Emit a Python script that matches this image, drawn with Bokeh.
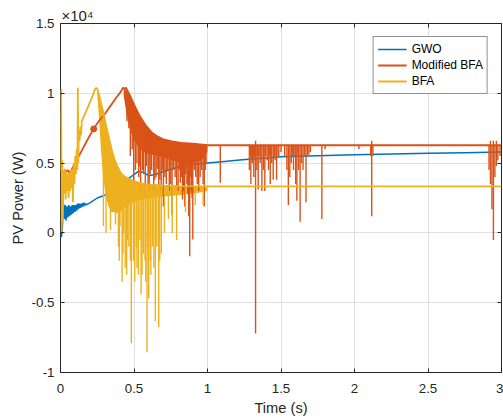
from bokeh.plotting import figure
from bokeh.models import Range1d, FixedTicker, LinearAxis, Legend, LegendItem, Title
from bokeh.embed import file_html
from bokeh.resources import INLINE

FONT = "Liberation Sans"
DARK = "#262626"
C_GWO = "#0072BD"
C_MBFA = "#D95319"
C_BFA = "#EDB120"

# ---------------- data (PV power, units of 1e4 W) ----------------
x_ticks = [0, 0.5, 1, 1.5, 2, 2.5, 3]
x_tick_labels = ["0", "0.5", "1", "1.5", "2", "2.5", "3"]
y_ticks = [-1, -0.5, 0, 0.5, 1, 1.5]
y_tick_labels = ["-1", "-0.5", "0", "0.5", "1", "1.5"]

# GWO
gwo_x = [0.000, 0.006, 0.012, 0.020, 0.026, 0.032, 0.038, 0.044, 0.050, 0.056, 0.062, 0.068,
         0.074, 0.080, 0.086, 0.092, 0.098, 0.104, 0.110, 0.116, 0.122, 0.128, 0.134, 0.140,
         0.146, 0.152, 0.158, 0.164, 0.170, 0.200, 0.250, 0.300, 0.350, 0.400, 0.450, 0.490,
         0.530, 0.560, 0.600, 0.650, 0.700, 0.800, 0.900, 1.000, 1.100, 1.200, 1.300, 1.400,
         1.500, 1.750, 2.000, 2.250, 2.500, 2.750, 3.000]
gwo_y = [0.00, -0.03, 0.02, 0.21, 0.10, 0.20, 0.09, 0.19, 0.11, 0.20, 0.12, 0.19,
         0.13, 0.20, 0.14, 0.20, 0.15, 0.20, 0.16, 0.21, 0.17, 0.21, 0.18, 0.21,
         0.185, 0.215, 0.19, 0.215, 0.20, 0.215, 0.25, 0.27, 0.30, 0.34, 0.38, 0.41,
         0.44, 0.435, 0.41, 0.42, 0.44, 0.47, 0.49, 0.50, 0.51, 0.52, 0.53, 0.537,
         0.545, 0.553, 0.56, 0.565, 0.57, 0.575, 0.58]

# Modified BFA
mbfa_x = [0.000, 0.010, 0.020, 0.030, 0.040, 0.050, 0.060, 0.068, 0.100, 0.140, 0.180, 0.222,
          0.260, 0.300, 0.340, 0.380, 0.410, 0.425, 0.435, 0.445, 0.455, 0.470, 0.500, 0.540,
          0.580, 0.620, 0.660, 0.700, 0.760, 0.820, 0.900, 1.000, 3.000]
mbfa_y = [0.44, 0.45, 0.43, 0.45, 0.44, 0.45, 0.43, 0.44, 0.50, 0.58, 0.66, 0.74,
          0.80, 0.85, 0.91, 0.97, 1.01, 1.04, 1.03, 1.04, 1.02, 0.99, 0.92, 0.835,
          0.77, 0.72, 0.69, 0.67, 0.655, 0.645, 0.64, 0.628, 0.628]
mbfa_dot_x = [0.226]
mbfa_dot_y = [0.745]
mbfa_band_x = [0.43, 0.45, 0.47, 0.50, 0.54, 0.58, 0.62, 0.66, 0.70, 0.76, 0.82, 0.90, 0.96, 1.00]
mbfa_band_hi = [1.03, 1.02, 0.99, 0.92, 0.835, 0.77, 0.72, 0.69, 0.67, 0.655, 0.645, 0.64, 0.635, 0.63]
mbfa_band_lo = [0.98, 0.85, 0.75, 0.66, 0.60, 0.57, 0.56, 0.55, 0.54, 0.52, 0.50, 0.50, 0.52, 0.58]
mbfa_spike_x = [0.498, 0.510, 0.532, 0.545, 0.557, 0.577, 0.596, 0.610, 0.634, 0.650, 0.668,
                0.685, 0.700, 0.720, 0.740, 0.759, 0.780, 0.800, 0.815, 0.830, 0.845, 0.860,
                0.872, 0.879, 0.890, 0.900, 0.920, 0.940, 0.960, 0.978, 0.990,
                0.452, 0.465, 0.475, 0.488, 0.520, 0.538, 0.565, 0.585, 0.603, 0.620, 0.642,
                0.658, 0.676, 0.692, 0.710, 0.730, 0.750, 0.768, 0.790, 0.808, 0.822, 0.838,
                0.852, 0.866, 0.885, 0.895, 0.910, 0.930, 0.950, 0.970, 0.985,
                1.087, 1.285, 1.290, 1.295, 1.300, 1.305, 1.310, 1.315, 1.320, 1.327, 1.336,
                1.340, 1.345, 1.350, 1.358, 1.362, 1.370, 1.380, 1.390, 1.395, 1.405, 1.415,
                1.420, 1.427, 1.437, 1.447, 1.455, 1.460, 1.470, 1.480, 1.485, 1.500, 1.525,
                1.540, 1.550, 1.560, 1.570, 1.580, 1.585, 1.595, 1.600, 1.608, 1.615, 1.620,
                1.630, 1.640, 1.650, 1.660, 1.670, 1.680, 1.690, 1.700, 1.778, 1.800, 2.030,
                2.110, 2.117, 2.125, 2.915, 2.925, 2.935, 2.945, 2.955, 2.965, 2.975, 2.990]
mbfa_spike_lo = [0.30, 0.45, 0.40, 0.30, 0.45, 0.25, 0.35, 0.42, 0.31, 0.40, 0.07,
                 0.30, 0.19, 0.35, 0.30, 0.13, 0.40, 0.30, 0.36, 0.24, 0.19, 0.35,
                 0.12, -0.167, 0.30, -0.048, 0.40, 0.30, 0.45, 0.19, 0.50,
                 0.80, 0.75, 0.55, 0.60, 0.50, 0.48, 0.42, 0.48, 0.30, 0.45, 0.38,
                 0.46, 0.38, 0.45, 0.40, 0.45, 0.35, 0.45, 0.33, 0.45, 0.40, 0.30,
                 0.42, 0.28, 0.40, 0.25, 0.45, 0.35, 0.40, 0.35, 0.45,
                 0.36, 0.45, 0.55, 0.35, 0.52, 0.50, 0.55, 0.40, 0.54, -0.72, 0.45,
                 0.55, 0.31, 0.55, 0.50, 0.54, 0.30, 0.45, 0.30, 0.55, 0.52, 0.45,
                 0.55, 0.35, 0.50, 0.38, 0.55, 0.52, 0.38, 0.55, 0.55, 0.58, 0.55,
                 0.45, 0.20, 0.40, 0.50, 0.55, 0.45, 0.55, 0.35, 0.23, 0.55, 0.45,
                 0.08, 0.50, 0.45, 0.55, 0.22, 0.55, 0.56, 0.58, 0.10, 0.60, 0.60,
                 0.55, 0.12, 0.55, 0.45, 0.35, 0.17, -0.05, 0.40, 0.48, 0.52, 0.55]
mbfa_spike_hi = [0.92, 0.89, 0.85, 0.825, 0.80, 0.775, 0.75, 0.735, 0.71, 0.70, 0.69,
                 0.68, 0.675, 0.665, 0.66, 0.655, 0.65, 0.648, 0.646, 0.645, 0.643, 0.642,
                 0.641, 0.641, 0.64, 0.64, 0.638, 0.636, 0.635, 0.634, 0.633,
                 1.02, 0.995, 0.98, 0.95, 0.87, 0.84, 0.79, 0.76, 0.74, 0.72, 0.705,
                 0.695, 0.685, 0.678, 0.67, 0.663, 0.657, 0.652, 0.649, 0.647, 0.645, 0.644,
                 0.643, 0.642, 0.641, 0.64, 0.639, 0.637, 0.636, 0.635, 0.634,
                 0.628, 0.628, 0.628, 0.628, 0.628, 0.628, 0.628, 0.628, 0.628, 0.66, 0.628,
                 0.628, 0.628, 0.628, 0.628, 0.628, 0.628, 0.628, 0.628, 0.628, 0.628, 0.628,
                 0.628, 0.628, 0.628, 0.628, 0.628, 0.628, 0.628, 0.628, 0.628, 0.628, 0.628,
                 0.628, 0.628, 0.628, 0.628, 0.628, 0.628, 0.628, 0.628, 0.628, 0.628, 0.628,
                 0.628, 0.628, 0.628, 0.628, 0.628, 0.628, 0.628, 0.628, 0.628, 0.628, 0.628,
                 0.628, 0.66, 0.628, 0.628, 0.66, 0.628, 0.66, 0.628, 0.66, 0.628, 0.628]

# BFA
bfa_x = [0.000, 0.004, 0.008, 0.012, 0.016, 0.020, 0.025, 0.030, 0.035, 0.040, 0.045, 0.050,
         0.055, 0.060, 0.065, 0.070, 0.075, 0.080, 0.085, 0.090, 0.095, 0.100, 0.105, 0.110,
         0.115, 0.118, 0.121, 0.125, 0.130, 0.135, 0.140, 0.145, 0.190, 0.220, 0.235, 0.243,
         0.250, 0.260, 0.275, 0.290, 0.310, 0.330, 0.345, 0.360, 0.385, 0.410, 0.430, 0.460,
         0.500, 0.550, 0.610, 0.700, 0.800, 1.000, 3.000]
bfa_y = [0.45, 1.03, 0.00, 0.52, 0.08, 0.45, 0.28, 0.46, 0.24, 0.44, 0.30, 0.42,
         0.25, 0.43, 0.30, 0.45, 0.32, 0.46, 0.22, 0.50, 0.35, 0.55, 0.42, 0.60,
         0.45, 1.04, 0.50, 0.74, 0.66, 0.76, 0.70, 0.80, 0.91, 0.985, 1.03, 1.04,
         1.03, 1.00, 0.93, 0.87, 0.77, 0.68, 0.61, 0.55, 0.48, 0.43, 0.41, 0.39,
         0.37, 0.355, 0.345, 0.338, 0.335, 0.333, 0.333]
bfa_band_x = [0.25, 0.26, 0.275, 0.29, 0.31, 0.33, 0.345, 0.36, 0.385, 0.41, 0.43, 0.46,
              0.50, 0.55, 0.61, 0.70, 0.80, 0.90, 1.00]
bfa_band_hi = [1.03, 1.00, 0.93, 0.87, 0.77, 0.68, 0.61, 0.55, 0.48, 0.43, 0.41, 0.39,
               0.37, 0.355, 0.345, 0.338, 0.335, 0.334, 0.333]
bfa_band_lo = [0.98, 0.85, 0.60, 0.40, 0.25, 0.18, 0.15, 0.15, 0.14, 0.15, 0.18, 0.20,
               0.22, 0.24, 0.25, 0.26, 0.27, 0.28, 0.30]
bfa_spike_x = [0.292, 0.310, 0.340, 0.374, 0.394, 0.400, 0.405, 0.419, 0.425, 0.430, 0.440,
               0.450, 0.455, 0.465, 0.475, 0.482, 0.496, 0.505, 0.516, 0.520, 0.530, 0.540,
               0.548, 0.555, 0.564, 0.575, 0.580, 0.589, 0.595, 0.600, 0.610, 0.615, 0.625,
               0.635, 0.645, 0.655, 0.668, 0.675, 0.686, 0.707, 0.734, 0.760, 0.790, 0.850,
               0.917, 0.970]
bfa_spike_lo = [0.05, 0.00, 0.02, 0.06, -0.10, -0.20, 0.05, -0.35, -0.15, 0.00, -0.25,
                -0.30, -0.05, -0.10, -0.20, -0.79, -0.20, -0.35, -0.10, -0.25, -0.30, -0.05,
                -0.44, -0.30, -0.15, -0.20, -0.35, -0.855, -0.10, -0.47, -0.20, -0.30, -0.10,
                -0.25, -0.633, -0.10, -0.676, -0.20, -0.15, 0.00, 0.10, 0.00, -0.05, 0.15,
                0.20, 0.20]
bfa_spike_hi = [0.86, 0.77, 0.63, 0.51, 0.46, 0.45, 0.44, 0.42, 0.415, 0.41, 0.40,
                0.395, 0.39, 0.385, 0.38, 0.375, 0.37, 0.368, 0.365, 0.364, 0.36, 0.357,
                0.355, 0.354, 0.353, 0.352, 0.351, 0.35, 0.349, 0.348, 0.345, 0.345, 0.344,
                0.343, 0.342, 0.341, 0.340, 0.340, 0.339, 0.338, 0.337, 0.336, 0.335, 0.334,
                0.334, 0.333]

# ---------------- figure ----------------
p = figure(frame_width=441, frame_height=349,
           x_range=Range1d(0, 3), y_range=Range1d(-1, 1.5),
           output_backend="svg", toolbar_location=None,
           min_border_left=60, min_border_right=2, min_border_top=23, min_border_bottom=46,
           background_fill_color="white", border_fill_color="white")
p.outline_line_color = DARK
p.outline_line_width = 1

xt = FixedTicker(ticks=x_ticks)
yt = FixedTicker(ticks=y_ticks)
x_over = dict(zip([float(v) for v in x_ticks], x_tick_labels))
y_over = dict(zip([float(v) for v in y_ticks], y_tick_labels))

p.xaxis.ticker = xt
p.yaxis.ticker = yt
p.xaxis.major_label_overrides = x_over
p.yaxis.major_label_overrides = y_over
p.xaxis.axis_label = "Time (s)"
p.yaxis.axis_label = "PV Power (W)"
for ax in (p.xaxis[0], p.yaxis[0]):
    ax.axis_line_color = None
    ax.major_tick_in = 4
    ax.major_tick_out = 0
    ax.minor_tick_in = 0
    ax.minor_tick_out = 0
    ax.major_tick_line_color = DARK
    ax.major_label_text_font = FONT
    ax.major_label_text_font_size = "13.33px"
    ax.major_label_text_color = DARK
    ax.axis_label_text_font = FONT
    ax.axis_label_text_font_size = "14.67px"
    ax.axis_label_text_font_style = "normal"
    ax.axis_label_text_color = DARK
p.xaxis.major_label_standoff = 11
p.xaxis.axis_label_standoff = 4
p.yaxis.major_label_standoff = 6
p.yaxis.axis_label_standoff = 3

blank_x = {float(v): "" for v in x_ticks}
blank_y = {float(v): "" for v in y_ticks}
top_ax = LinearAxis(ticker=FixedTicker(ticks=x_ticks), axis_line_color=None,
                    major_tick_in=4, major_tick_out=0, minor_tick_in=0, minor_tick_out=0,
                    major_tick_line_color=DARK, major_label_overrides=blank_x,
                    major_label_standoff=0)
right_ax = LinearAxis(ticker=FixedTicker(ticks=y_ticks), axis_line_color=None,
                      major_tick_in=4, major_tick_out=0, minor_tick_in=0, minor_tick_out=0,
                      major_tick_line_color=DARK, major_label_overrides=blank_y,
                      major_label_standoff=0)
p.add_layout(top_ax, "above")
p.add_layout(right_ax, "right")

p.xgrid.ticker = xt
p.ygrid.ticker = yt
p.xgrid.grid_line_color = "#DFDFDF"
p.ygrid.grid_line_color = "#DFDFDF"

# exponent label above the axes, left-aligned with the frame
p.add_layout(Title(text="×10⁴", align="left", offset=1, standoff=0,
                   text_font=FONT, text_font_size="15px", text_font_style="normal",
                   text_color=DARK), "above")

# ---------------- series ----------------
r_gwo = p.line(gwo_x, gwo_y, line_color=C_GWO, line_width=1.5)
p.varea(x=bfa_band_x, y1=bfa_band_lo, y2=bfa_band_hi, fill_color=C_BFA)
p.varea(x=mbfa_band_x, y1=mbfa_band_lo, y2=mbfa_band_hi, fill_color=C_MBFA)
r_mbfa = p.line(mbfa_x, mbfa_y, line_color=C_MBFA, line_width=1.8)
p.segment(x0=mbfa_spike_x, y0=mbfa_spike_lo, x1=mbfa_spike_x, y1=mbfa_spike_hi,
          line_color=C_MBFA, line_width=1.4)
p.scatter(mbfa_dot_x, mbfa_dot_y, size=6, color=C_MBFA)
r_bfa = p.line(bfa_x, bfa_y, line_color=C_BFA, line_width=1.8)
p.segment(x0=bfa_spike_x, y0=bfa_spike_lo, x1=bfa_spike_x, y1=bfa_spike_hi,
          line_color=C_BFA, line_width=1.4)

legend = Legend(items=[LegendItem(label="GWO", renderers=[r_gwo]),
                       LegendItem(label="Modified BFA", renderers=[r_mbfa]),
                       LegendItem(label="BFA", renderers=[r_bfa])],
                location="top_right", margin=13, padding=4, spacing=0,
                glyph_width=29, glyph_height=16, label_height=16, label_standoff=5,
                label_text_font=FONT, label_text_font_size="12px", label_text_color="black",
                border_line_color=DARK, border_line_width=1,
                background_fill_color="white", background_fill_alpha=1.0)
p.add_layout(legend)

open("out.html", "w").write(file_html(p, INLINE))
